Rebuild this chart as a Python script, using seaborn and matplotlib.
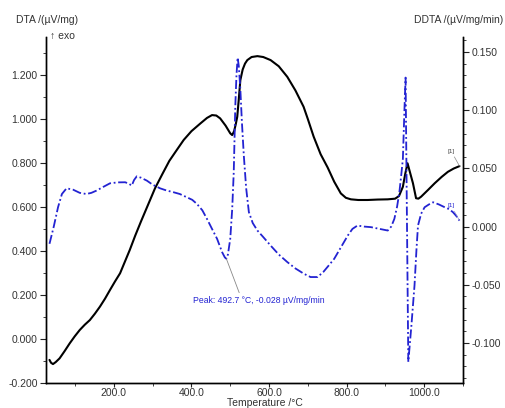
import matplotlib
matplotlib.use("Agg")
import matplotlib.pyplot as plt
from matplotlib.ticker import MultipleLocator, FormatStrFormatter
import seaborn as sns
import pandas as pd

sns.set_theme(style="white")
plt.rcParams['font.family'] = ['Liberation Sans', 'DejaVu Sans']

# DTA curve (left axis)
dta_temp = [34, 38, 43, 50, 60, 73, 86, 99, 112, 125, 138, 151, 164, 177, 190,
            203, 216, 228, 241, 255, 270, 288, 306, 325, 343, 362, 380, 400,
            423, 440, 453, 464, 474, 488, 500, 505, 510, 514, 518, 522, 526,
            532, 538, 544, 555, 570, 585, 604, 625, 647, 668, 689, 700, 715,
            733, 751, 768, 785, 798, 811, 830, 854, 880, 906, 925, 935, 945,
            951, 957, 963, 971, 979, 985, 992, 1010, 1027, 1045, 1061, 1076,
            1091]
dta_val = [-0.095, -0.108, -0.114, -0.105, -0.088, -0.055, -0.020, 0.012,
           0.041, 0.065, 0.086, 0.115, 0.147, 0.183, 0.223, 0.262, 0.299,
           0.350, 0.405, 0.470, 0.535, 0.610, 0.685, 0.750, 0.810, 0.859,
           0.905, 0.945, 0.980, 1.005, 1.018, 1.016, 1.003, 0.970, 0.935,
           0.927, 0.945, 0.975, 1.010, 1.090, 1.177, 1.225, 1.252, 1.268,
           1.282, 1.286, 1.282, 1.268, 1.240, 1.192, 1.130, 1.056, 1.000,
           0.920, 0.840, 0.780, 0.715, 0.662, 0.642, 0.635, 0.632, 0.632,
           0.634, 0.635, 0.638, 0.650, 0.692, 0.750, 0.799, 0.760, 0.708,
           0.640, 0.638, 0.647, 0.678, 0.708, 0.737, 0.760, 0.775, 0.786]

# DDTA curve (right axis)
ddta_temp = [34, 45, 56, 66, 78, 95, 112, 129, 142, 155, 172, 190, 210, 229,
             238, 246, 252, 259, 270, 285, 300, 319, 336, 354, 370, 388, 402,
             414, 428, 440, 453, 466, 479, 486, 490, 494, 500, 505, 509, 513,
             516, 519, 522, 526, 530, 535, 541, 548, 558, 570, 585, 604, 625,
             647, 668, 690, 707, 725, 740, 755, 768, 785, 803, 815, 828, 845,
             863, 885, 906, 915, 923, 930, 936, 941, 945, 949, 952, 959, 967,
             975, 980, 984, 992, 1001, 1012, 1023, 1038, 1053, 1064, 1074, 1083,
             1091]
ddta_val = [-0.0148, 0.0000, 0.0166, 0.0280, 0.0329, 0.0317, 0.0290, 0.0280,
            0.0290, 0.0309, 0.0340, 0.0372, 0.0380, 0.0381, 0.0370, 0.0352,
            0.0400, 0.0432, 0.0420, 0.0395, 0.0360, 0.0329, 0.0310, 0.0295,
            0.0280, 0.0252, 0.0230, 0.0195, 0.0140, 0.0066, -0.0020, -0.0105,
            -0.0220, -0.0265, -0.0277, -0.0240, -0.0105, 0.0150, 0.0467,
            0.1038, 0.1300, 0.1453, 0.1380, 0.1181, 0.0900, 0.0609, 0.0330,
            0.0124, 0.0030, -0.0034, -0.0090, -0.0163, -0.0240, -0.0305,
            -0.0360, -0.0406, -0.0434, -0.0434, -0.0390, -0.0330, -0.0277,
            -0.0180, -0.0077, -0.0020, 0.0009, 0.0000, -0.0005, -0.0020,
            -0.0034, 0.0000, 0.0066, 0.0170, 0.0295, 0.0450, 0.0581, 0.1000,
            0.1281, -0.1163, -0.0850, -0.0506, -0.0200, 0.0009, 0.0110,
            0.0166, 0.0190, 0.0209, 0.0190, 0.0166, 0.0150, 0.0124, 0.0090,
            0.0051]

x_ticks = [200, 400, 600, 800, 1000]
left_ticks = [-0.2, 0.0, 0.2, 0.4, 0.6, 0.8, 1.0, 1.2]
right_ticks = [-0.1, -0.05, 0.0, 0.05, 0.1, 0.15]

blue = '#2323d2'
df1 = pd.DataFrame({'T': dta_temp, 'v': dta_val})
df2 = pd.DataFrame({'T': ddta_temp, 'v': ddta_val})

fig = plt.figure(figsize=(5.05, 4.08), dpi=100)
ax = fig.add_axes([46/505, 25/408, (463-46)/505, (383-37)/408])
ax2 = ax.twinx()

sns.lineplot(data=df1, x='T', y='v', ax=ax, color='black', lw=1.5,
             sort=False, estimator=None)
sns.lineplot(data=df2, x='T', y='v', ax=ax2, color=blue, lw=1.3,
             sort=False, estimator=None)
ax.lines[0].set_solid_joinstyle('round')
ax2.lines[0].set_dashes([5, 1.5, 1, 1.5])

ax.set_xlim(25, 1100)
ax.set_ylim(-0.2, 1.373)
ax2.set_ylim(-0.1345, 0.1630)

for a in (ax, ax2):
    a.spines['top'].set_visible(False)
    for s in a.spines.values():
        s.set_linewidth(1.0)
        s.set_color('black')
    a.set_xlabel('')
    a.set_ylabel('')
    a.grid(False)

ax.set_xticks(x_ticks)
ax.xaxis.set_minor_locator(MultipleLocator(100))
ax.xaxis.set_major_formatter(FormatStrFormatter('%.1f'))
ax.set_yticks(left_ticks)
ax.yaxis.set_minor_locator(MultipleLocator(0.1))
ax.yaxis.set_major_formatter(FormatStrFormatter('%.3f'))
ax2.set_yticks(right_ticks)
ax2.yaxis.set_minor_locator(MultipleLocator(0.01))
ax2.yaxis.set_major_formatter(FormatStrFormatter('%.3f'))

for a in (ax, ax2):
    a.tick_params(which='major', direction='out', length=4, width=0.8,
                  labelsize=7.5, colors='#222222', pad=2, labelcolor='#333333')
    a.tick_params(which='minor', direction='out', length=2.5, width=0.6,
                  colors='#222222')
ax.tick_params(axis='x', which='both', bottom=True)
ax.tick_params(axis='x', which='major', pad=0.5, length=3)
ax.tick_params(axis='x', which='minor', length=2)
ax.tick_params(axis='y', which='both', left=True)
ax2.tick_params(axis='y', which='both', right=True)

fig.text(16/505, 1 - 20/408, 'DTA /(µV/mg)', fontsize=7.5, color='#333333',
         va='center', ha='left')
fig.text(50/505, 1 - 36/408, '↑ exo', fontsize=7.5, color='#333333',
         va='center', ha='left')
fig.text(503/505, 1 - 20/408, 'DDTA /(µV/mg/min)', fontsize=7.5,
         color='#333333', va='center', ha='right')
fig.text(265/505, 1 - 403.5/408, 'Temperature /°C', fontsize=7.5,
         color='#333333', va='center', ha='center')

# peak annotation
ax2.annotate('Peak: 492.7 °C, -0.028 µV/mg/min', xy=(490, -0.0277),
             xytext=(-24, -30), textcoords='offset points', fontsize=6.2,
             color=blue, va='center', ha='left',
             arrowprops=dict(arrowstyle='-', color='#888888', lw=0.6,
                             shrinkA=0, shrinkB=0,
                             relpos=(0.36, 1.0)))

ax.annotate('[1]', xy=(1091, 0.786), xytext=(-6, 9),
            textcoords='offset points', fontsize=4.5, color='#444444',
            ha='center', va='bottom',
            arrowprops=dict(arrowstyle='-', color='#888888', lw=0.5,
                            shrinkA=0, shrinkB=0))
ax2.annotate('[1]', xy=(1091, 0.0051), xytext=(-6, 9),
             textcoords='offset points', fontsize=4.5, color=blue,
             ha='center', va='bottom',
             arrowprops=dict(arrowstyle='-', color='#8888cc', lw=0.5,
                             shrinkA=0, shrinkB=0))

fig.savefig('out.png', dpi=100, facecolor='white')
